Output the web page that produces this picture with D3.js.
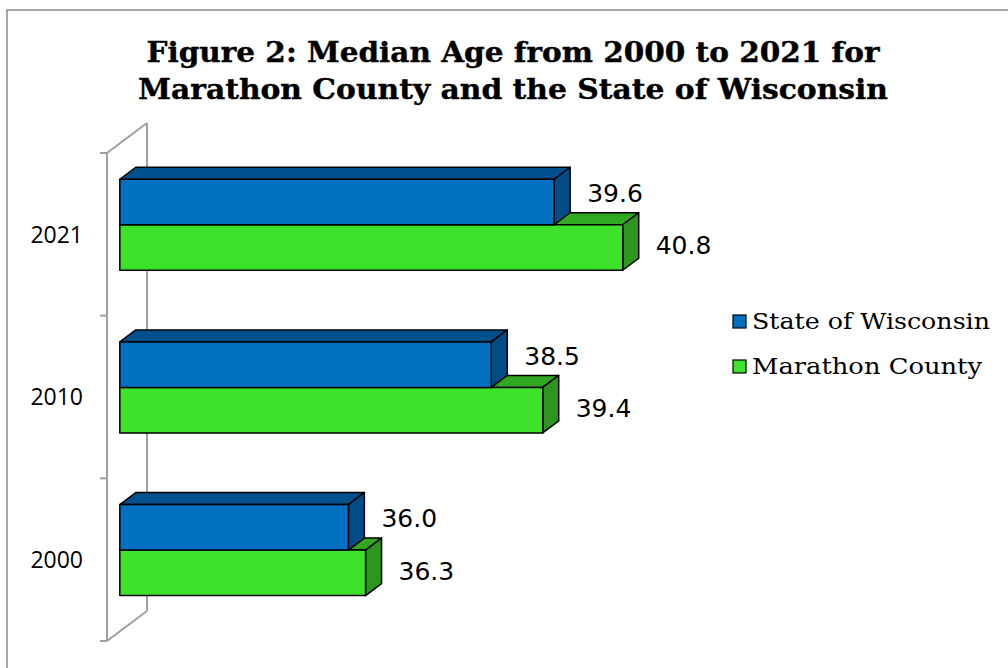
<!DOCTYPE html>
<html><head><meta charset="utf-8">
<script src="https://cdn.jsdelivr.net/npm/d3@7/dist/d3.min.js"></script>
<style>body{margin:0;background:#fff}svg{display:block}</style>
</head><body>
<svg id="chart" width="1008" height="668"></svg>
<script>
const categories = ["2021", "2010", "2000"];
const wisconsin = [39.6, 38.5, 36.0];
const marathon = [40.8, 39.4, 36.3];
const seriesNames = ["State of Wisconsin", "Marathon County"];
const titleLines = ["Figure 2: Median Age from 2000 to 2021 for", "Marathon County and the State of Wisconsin"];

const svg = d3.select("#chart");
const W = 1008, H = 668;

// frame
svg.append("rect").attr("x", 7).attr("y", 10).attr("width", W + 20).attr("height", H + 20)
  .attr("fill", "#fff").attr("stroke", "#8c8c8c").attr("stroke-width", 1.5);

// title
svg.append("g").selectAll("text").data(titleLines).join("text")
  .attr("x", 513).attr("y", (d, i) => 62 + i * 37)
  .attr("text-anchor", "middle")
  .attr("font-family", "DejaVu Serif, serif").attr("font-weight", "bold").attr("font-size", 28)
  .attr("stroke", "#000").attr("stroke-width", 0.4)
  .attr("textLength", (d, i) => i === 0 ? 733 : 750).attr("lengthAdjust", "spacingAndGlyphs")
  .attr("fill", "#000").text(d => d);

// scales (front plane)
const x = d3.scaleLinear().domain([32, 42]).range([107, 678.5]);
const y = d3.scaleBand().domain(categories).range([153, 641]);
const DX = 40, DY = -30; // depth projection
const proj = (px, py, d) => [px + DX * d, py + DY * d];
const dFront = 0.32, dBack = 0.72;

const wallColor = "#a0a0a0";
const g = svg.append("g");
// wall / axis
const x0 = x.range()[0];
const [y0, y1] = y.range();
g.append("line").attr("x1", x0).attr("y1", y0).attr("x2", x0).attr("y2", y1)
  .attr("stroke", wallColor).attr("stroke-width", 2);
const bt = proj(x0, y0, 1), bb = proj(x0, y1, 1);
g.append("line").attr("x1", bt[0]).attr("y1", bt[1]).attr("x2", bb[0]).attr("y2", bb[1])
  .attr("stroke", wallColor).attr("stroke-width", 2);
g.append("line").attr("x1", x0).attr("y1", y0).attr("x2", bt[0]).attr("y2", bt[1])
  .attr("stroke", wallColor).attr("stroke-width", 2);
g.append("line").attr("x1", x0).attr("y1", y1).attr("x2", bb[0]).attr("y2", bb[1])
  .attr("stroke", wallColor).attr("stroke-width", 2);
const tickYs = categories.map(c => y(c)).concat([y1]);
g.selectAll(".tick").data(tickYs).join("line")
  .attr("x1", x0 - 7).attr("x2", x0).attr("y1", d => d).attr("y2", d => d)
  .attr("stroke", wallColor).attr("stroke-width", 2);

// category labels
g.selectAll(".cat").data(categories).join("text")
  .attr("x", 83).attr("y", d => y(d) + y.bandwidth() / 2)
  .attr("dy", "0.36em").attr("text-anchor", "end")
  .attr("font-family", "Open Sans, sans-serif").attr("font-size", 23)
  .attr("fill", "#000").text(d => d);

const colors = [
  {front: "#0070c0", top: "#00508e", side: "#004c86"},
  {front: "#3fe22a", top: "#31a821", side: "#2c961d"}
];
const barH = 45.5;
const pad = (y.bandwidth() - 2 * barH) / 2;

function face(pts) { return "M" + pts.map(p => p.join(",")).join("L") + "Z"; }

function drawBar(cat, val, s) {
  const top = y(cat) + pad + s * barH;
  const bot = top + barH;
  const xl = x.domain()[0], xr = val;
  const L = x(xl), R = x(xr);
  const c = colors[s];
  const bar = g.append("g").attr("stroke", "#000").attr("stroke-width", 1.5).attr("stroke-linejoin", "round");
  bar.append("path").attr("d", face([proj(L, top, dFront), proj(L, top, dBack), proj(R, top, dBack), proj(R, top, dFront)]))
    .attr("fill", c.top);
  bar.append("path").attr("d", face([proj(R, top, dFront), proj(R, top, dBack), proj(R, bot, dBack), proj(R, bot, dFront)]))
    .attr("fill", c.side);
  bar.append("path").attr("d", face([proj(L, top, dFront), proj(R, top, dFront), proj(R, bot, dFront), proj(L, bot, dFront)]))
    .attr("fill", c.front);
  const lp = proj(R, (top + bot) / 2, dBack);
  g.append("text").attr("x", lp[0] + 17).attr("y", (top + bot) / 2 + DY * dFront + (s === 0 ? 0 : 7))
    .attr("font-family", "DejaVu Sans, Verdana, sans-serif").attr("font-size", 25)
    .attr("fill", "#000").text(d3.format(".1f")(val));
}

categories.forEach((cat, i) => {
  drawBar(cat, marathon[i], 1);
  drawBar(cat, wisconsin[i], 0);
});

// legend
const leg = svg.append("g");
seriesNames.forEach((name, i) => {
  const ly = 321 + i * 45;
  leg.append("rect").attr("x", 733).attr("y", ly - 6).attr("width", 13).attr("height", 13)
    .attr("fill", colors[i].front).attr("stroke", "#000").attr("stroke-width", 1.2);
  leg.append("text").attr("x", 752).attr("y", ly + 7.5)
    .attr("font-family", "DejaVu Serif, serif").attr("font-size", 23)
    .attr("textLength", i === 0 ? 238 : 230).attr("lengthAdjust", "spacingAndGlyphs")
    .attr("fill", "#000").text(name);
});
</script>
</body></html>
